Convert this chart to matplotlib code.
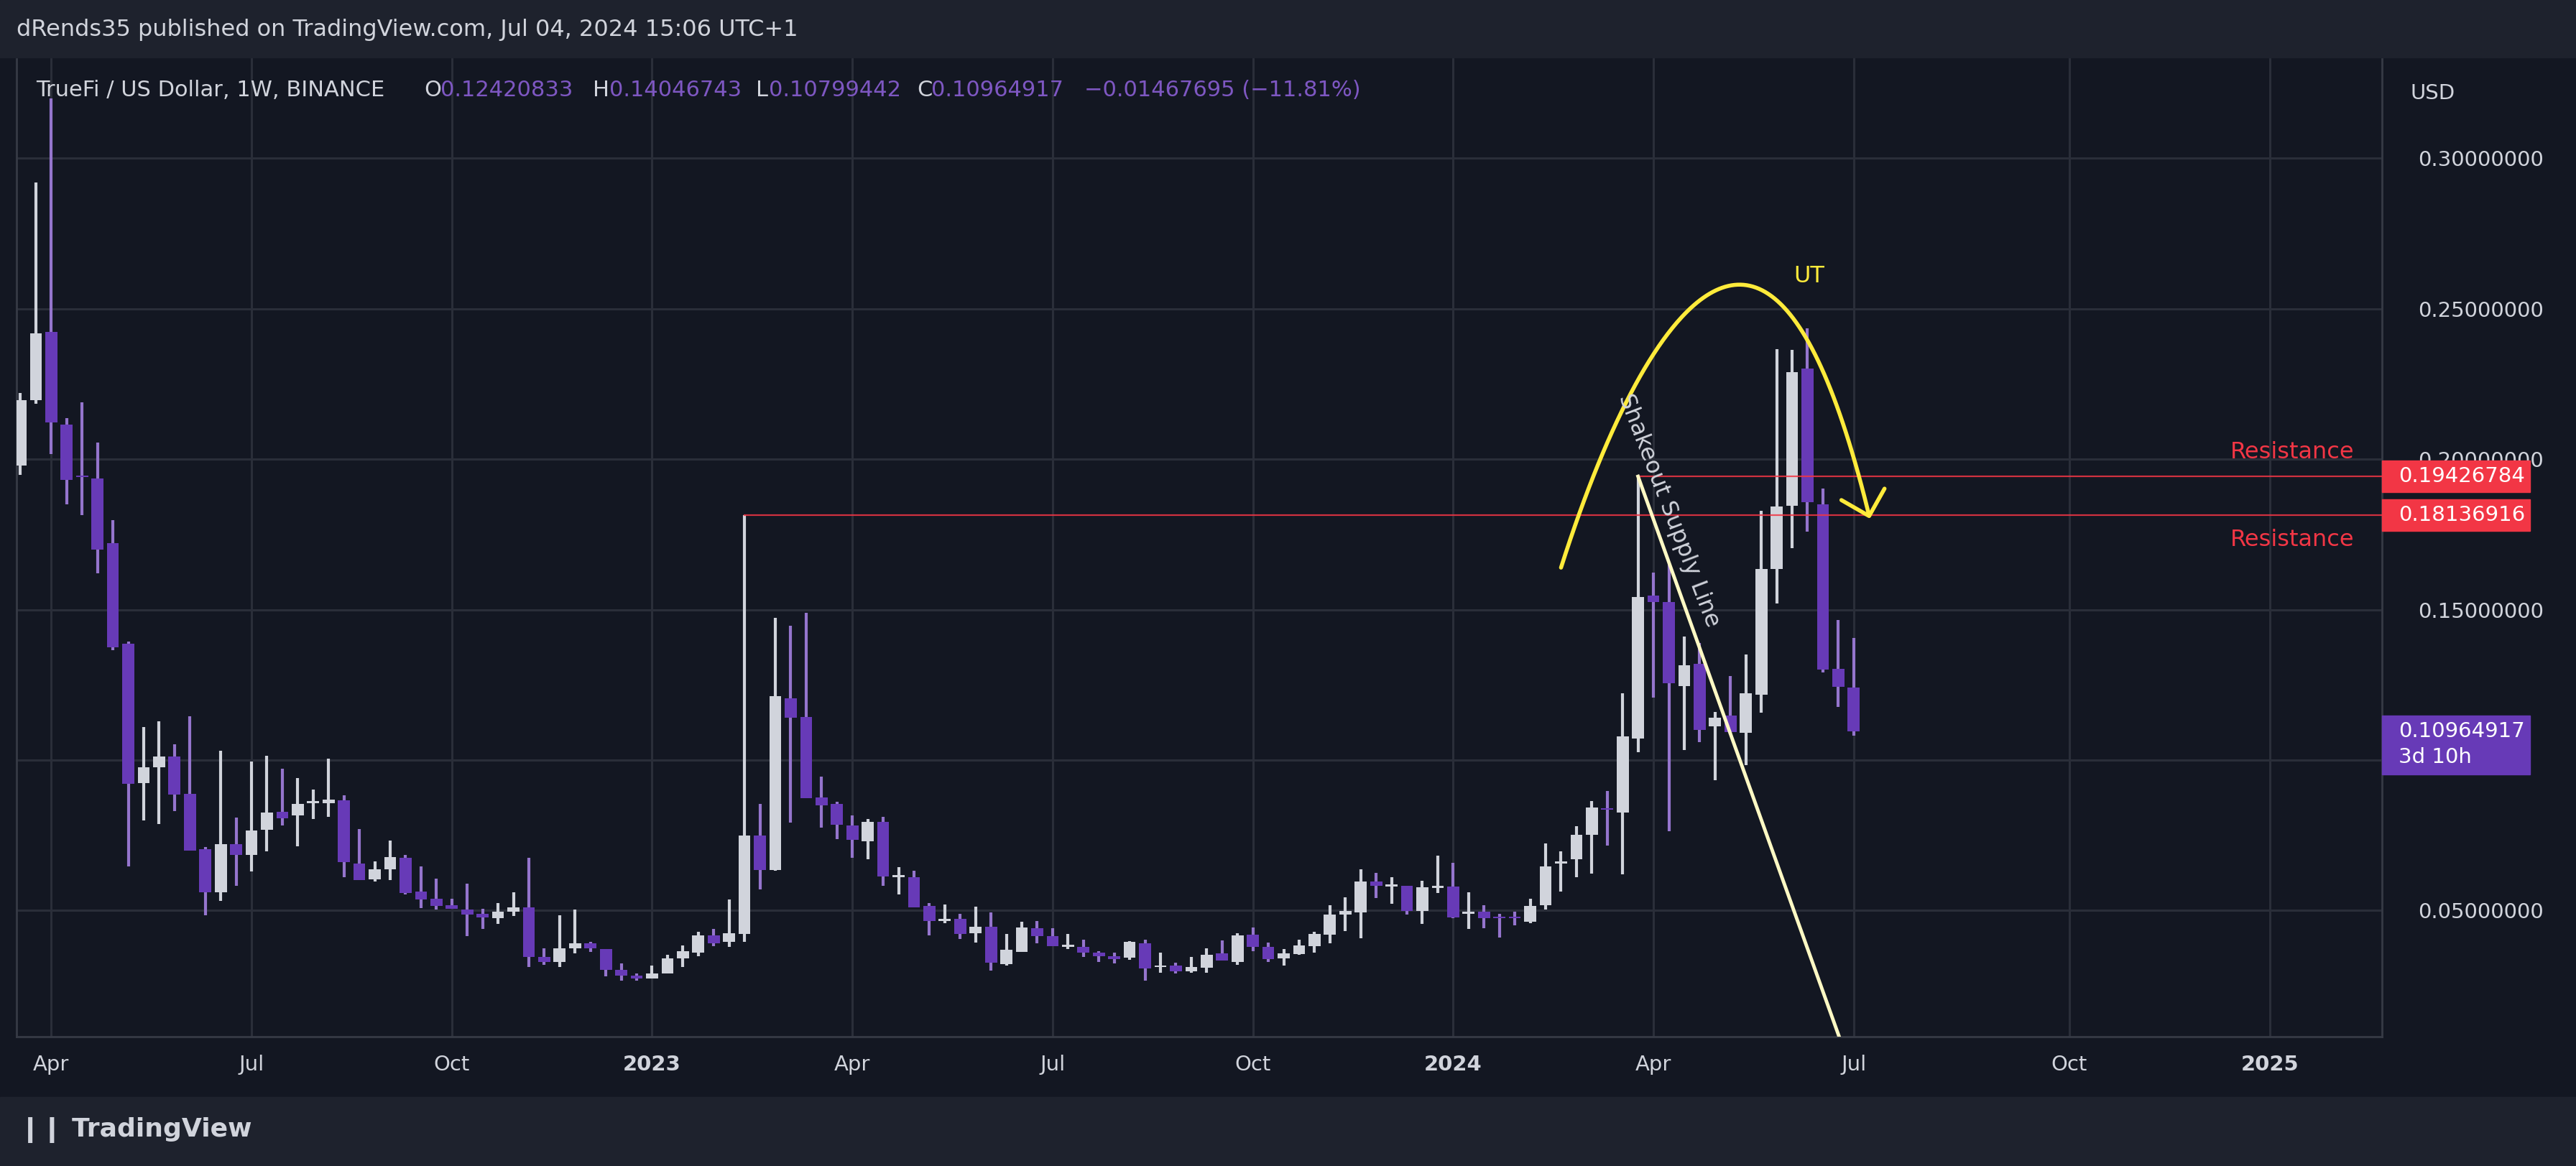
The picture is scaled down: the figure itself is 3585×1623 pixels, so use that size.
import numpy as np
import matplotlib
matplotlib.use("Agg")
import matplotlib.pyplot as plt
from matplotlib.patches import Rectangle
import datetime as dt

# ---------------- data (weekly bars from 2022-03-21) ----------------
start_date = dt.date(2022, 3, 21)
opens = [0.198,0.2197,0.2422,0.2116,0.1942,0.1935,0.172,0.1387,0.0924,0.0975,
         0.1011,0.0887,0.0704,0.0561,0.0721,0.0685,0.0769,0.0828,0.0817,0.0857,
         0.0857,0.0865,0.0656,0.0603,0.0636,0.0674,0.0563,0.054,0.0517,0.0504,
         0.049,0.0475,0.0496,0.0511,0.0346,0.033,0.0374,0.039,0.0372,0.0302,
         0.0283,0.0275,0.029,0.0342,0.0361,0.0418,0.0396,0.0421,0.0749,0.0635,
         0.1206,0.1142,0.0876,0.0855,0.0783,0.0731,0.0795,0.0611,0.061,0.0515,
         0.0466,0.0472,0.0425,0.0446,0.0322,0.0362,0.044,0.0415,0.0379,0.038,
         0.036,0.0349,0.0344,0.0391,0.0311,0.0316,0.0298,0.0309,0.0357,0.0329,
         0.0419,0.0378,0.0341,0.0356,0.0382,0.0419,0.0487,0.0493,0.0597,0.058,
         0.0582,0.0499,0.0575,0.0579,0.049,0.0496,0.0476,0.0477,0.0463,0.0517,
         0.0655,0.0671,0.0752,0.0838,0.0825,0.1072,0.1546,0.1524,0.1245,0.1319,
         0.1113,0.1149,0.109,0.1218,0.1636,0.1846,0.2302,0.1851,0.1302,0.12420833]
highs = [0.222,0.292,0.32,0.2137,0.2189,0.2055,0.1798,0.1393,0.1109,0.1128,
         0.1053,0.1145,0.0712,0.1032,0.0809,0.0996,0.1015,0.097,0.0941,0.0901,
         0.1004,0.0882,0.0771,0.0662,0.0733,0.0685,0.0647,0.0607,0.054,0.059,
         0.0506,0.0525,0.0561,0.0676,0.0374,0.0485,0.0504,0.0395,0.0372,0.0323,
         0.029,0.0317,0.0353,0.0383,0.0429,0.0439,0.0536,0.18136916,0.0855,0.1472,
         0.1446,0.1489,0.0945,0.0862,0.0816,0.0803,0.0811,0.0645,0.0633,0.0525,
         0.052,0.0488,0.0512,0.0494,0.0421,0.0463,0.0465,0.044,0.0421,0.0403,
         0.0365,0.036,0.0397,0.0402,0.0361,0.0327,0.0345,0.0374,0.04,0.0424,
         0.0443,0.0393,0.0371,0.0403,0.0428,0.0517,0.0544,0.0637,0.0625,0.061,
         0.0582,0.0598,0.0683,0.0658,0.0561,0.0518,0.0489,0.0495,0.054,0.0724,
         0.0697,0.0781,0.0864,0.0898,0.1222,0.19426784,0.1623,0.1654,0.141,0.139,
         0.1159,0.128,0.1351,0.1828,0.2366,0.2363,0.2436,0.1902,0.1465,0.14046743]
lows = [0.1947,0.2183,0.2017,0.1851,0.1813,0.162,0.1365,0.0647,0.08,0.0787,
        0.083,0.0698,0.0485,0.0532,0.0582,0.063,0.0697,0.0782,0.0714,0.0805,
        0.0811,0.0611,0.0601,0.0597,0.0601,0.0553,0.0508,0.0504,0.0506,0.0416,
        0.0439,0.0456,0.0481,0.0311,0.0319,0.0311,0.0357,0.0363,0.0281,0.0267,
        0.0267,0.0273,0.029,0.0311,0.0349,0.0382,0.0378,0.0396,0.0571,0.0633,
        0.0791,0.0873,0.0775,0.0736,0.0676,0.0671,0.0583,0.0554,0.0511,0.0418,
        0.0457,0.0406,0.0394,0.03,0.0316,0.0362,0.0391,0.0381,0.0372,0.0346,
        0.0329,0.0325,0.0335,0.0267,0.0294,0.029,0.0294,0.0294,0.0334,0.0319,
        0.0365,0.0329,0.0317,0.0353,0.036,0.0391,0.0431,0.0408,0.0542,0.0523,
        0.0487,0.0456,0.0557,0.0475,0.0439,0.0441,0.041,0.045,0.0457,0.0503,
        0.0563,0.061,0.0622,0.0715,0.062,0.1025,0.1207,0.0764,0.1034,0.106,
        0.0934,0.1085,0.0983,0.1157,0.1521,0.1704,0.1758,0.1291,0.1177,0.10799442]
closes = [0.2195,0.2418,0.2122,0.1931,0.194,0.170,0.1374,0.092,0.0977,0.1011,
          0.0886,0.0698,0.0561,0.072,0.0685,0.0767,0.0826,0.0807,0.0853,0.0859,
          0.0868,0.066,0.0601,0.0636,0.0677,0.0557,0.0536,0.0515,0.0506,0.0487,
          0.0477,0.0496,0.0511,0.0345,0.033,0.0374,0.0391,0.0374,0.0302,0.0283,
          0.0273,0.029,0.0342,0.0364,0.0418,0.0391,0.0424,0.0749,0.0634,0.1212,
          0.114,0.0873,0.085,0.0786,0.0734,0.0795,0.0614,0.0617,0.0511,0.0464,
          0.0472,0.0422,0.0446,0.0327,0.037,0.0444,0.0416,0.0381,0.0386,0.036,
          0.0348,0.0339,0.0396,0.0308,0.0316,0.0298,0.0311,0.0353,0.0334,0.0417,
          0.0379,0.0339,0.0357,0.0384,0.0421,0.0486,0.0498,0.0596,0.0582,0.0587,
          0.0499,0.0577,0.0582,0.0478,0.0494,0.0474,0.0474,0.0474,0.0514,0.0646,
          0.0663,0.0752,0.0843,0.0834,0.1078,0.1541,0.1526,0.1256,0.1314,0.1101,
          0.114,0.1094,0.1221,0.1636,0.1843,0.229,0.1858,0.13,0.1244,0.10964917]

resistance_levels = [0.19426784, 0.18136916]
resistance_start_bars = [105, 47]
price_ticks = [0.05, 0.10, 0.15, 0.20, 0.25, 0.30]
last_price = 0.10964917
change_text = "\u22120.01467695 (\u221211.81%)"

# ---------------- style ----------------
BG = "#131722"
BAND = "#1e222d"
GRID = "#2a2e39"
UP = "#d1d4dc"
DN = "#673ab7"
DN_WICK = "#9575cd"
RED = "#f23645"

W, H = 3585, 1623
S = W / 1568.0
fig = plt.figure(figsize=(W / 100, H / 100), dpi=100, facecolor=BG)

def fx(x): return x * S / W
def fy(y): return 1 - y * S / H

fig.patches.append(Rectangle((0, fy(35)), 1, 1 - fy(35), transform=fig.transFigure, color=BAND, zorder=0))
fig.patches.append(Rectangle((0, 0), 1, fy(668), transform=fig.transFigure, color=BAND, zorder=0))

left, right, top, bottom = 10, 1450, 35, 631
ax = fig.add_axes([fx(left), fy(bottom), fx(right) - fx(left), fy(top) - fy(bottom)])
ax.set_facecolor(BG)
n = len(opens)
x = np.arange(n)
XLIM = (-0.26, 153.3)
YLIM = (0.00813, 0.3335)

# month ticks (first weekly bar of Jan/Apr/Jul/Oct)
dates = [start_date + dt.timedelta(days=7 * i) for i in range(160)]
tp, tl, tb = [], [], []
for i in range(1, len(dates)):
    d, dp = dates[i], dates[i - 1]
    if d.month != dp.month and d.month in (1, 4, 7, 10) and i < XLIM[1]:
        tp.append(i)
        tl.append(str(d.year) if d.month == 1 else d.strftime("%b"))
        tb.append(d.month == 1)

# candles
bw = 0.78
for i in range(n):
    o, h, l, c = opens[i], highs[i], lows[i], closes[i]
    up = c >= o
    ax.vlines(x[i], l, h, color=UP if up else DN_WICK, linewidth=3, zorder=3)
    ax.add_patch(Rectangle((x[i] - bw / 2, min(o, c)), bw, max(abs(c - o), 0.0006),
                           color=UP if up else DN, zorder=4, linewidth=0))

for lvl, sb in zip(resistance_levels, resistance_start_bars):
    ax.plot([sb, 160], [lvl, lvl], color=RED, linewidth=1.6, zorder=5, alpha=0.85)

ax.text(151.5, 0.1985, "Resistance", color=RED, fontsize=23, ha="right", va="bottom")
ax.text(151.5, 0.1768, "Resistance", color=RED, fontsize=23, ha="right", va="top")

# shakeout supply line
slope = (0.0178 - resistance_levels[0]) / 12.37
xs = np.array([105, 118.1])
ax.plot(xs, resistance_levels[0] + slope * (xs - 105), color="#fff9c4", linewidth=3.5, zorder=6)
ax.text(107.0, 0.183, "Shakeout Supply Line", color=UP, fontsize=23, rotation=-69,
        rotation_mode="anchor", ha="center", va="center", zorder=7)

# UT arc
arc_x = np.array([100, 101.3, 104.4, 107.6, 111.4, 116.0, 119.0, 120.0])
arc_y = np.array([0.164, 0.1837, 0.2195, 0.2477, 0.2566, 0.240, 0.2005, 0.1811])
coef = np.polyfit(arc_x, arc_y, 4)
xx = np.linspace(100, 120, 200)
ax.plot(xx, np.polyval(coef, xx), color="#ffeb3b", linewidth=4, zorder=6, solid_capstyle="round")
ax.plot([118.2, 120.0, 121.0], [0.1864, 0.1811, 0.1902], color="#ffeb3b", linewidth=4, zorder=6,
        solid_capstyle="round")
ax.text(116.1, 0.2608, "UT", color="#ffeb3b", fontsize=23, ha="center", va="center")

ax.set_xticks(tp)
ax.set_xticklabels(tl)
for lab, b in zip(ax.get_xticklabels(), tb):
    lab.set_fontweight("bold" if b else "normal")
ax.set_yticks(price_ticks)
ax.set_yticklabels(["" if abs(v - last_price) < 0.02 else f"{v:.8f}" for v in price_ticks])
ax.set_xlim(*XLIM)
ax.set_ylim(*YLIM)
ax.yaxis.tick_right()
ax.tick_params(axis="both", length=0, colors=UP, labelsize=21)
ax.tick_params(axis="y", pad=36)
ax.tick_params(axis="x", pad=18)
ax.grid(True, color=GRID, linewidth=2.2)
ax.set_axisbelow(True)
for sp in ax.spines.values():
    sp.set_color("#363a45"); sp.set_linewidth(2)
ax.spines["top"].set_visible(False)

# price tags
def ypix(p):
    return ax.transData.transform((0, p))[1] / H
def tag(p, text, color, two=None):
    yc = ypix(p)
    hh = 19 * S / H
    if two:
        hh2 = 36 * S / H
        fig.patches.append(Rectangle((fx(1450), yc + hh / 2 - hh2), fx(1540) - fx(1450), hh2,
                                     transform=fig.transFigure, color=color, zorder=5))
        fig.text(fx(1460), yc, text, color="white", fontsize=21, va="center", ha="left", zorder=7)
        fig.text(fx(1460), yc - 16 * S / H, two, color="white", fontsize=21, va="center", ha="left", zorder=7)
    else:
        fig.patches.append(Rectangle((fx(1450), yc - hh / 2), fx(1540) - fx(1450), hh,
                                     transform=fig.transFigure, color=color, zorder=5))
        fig.text(fx(1460), yc, text, color="white", fontsize=21, va="center", ha="left", zorder=7)

tag(resistance_levels[0], f"{resistance_levels[0]:.8f}", RED)
tag(resistance_levels[1], f"{resistance_levels[1]:.8f}", RED)
tag(last_price, f"{last_price:.8f}", DN, two="3d 10h")

# header texts
fig.text(fx(10), fy(18), "dRends35 published on TradingView.com, Jul 04, 2024 15:06 UTC+1",
         color="#d1d4dc", fontsize=23, va="center")
fig.text(fx(1467), fy(57), "USD", color="#d1d4dc", fontsize=21, va="center")
ty = fy(55)
segs = [(22, "TrueFi / US Dollar, 1W, BINANCE", "#d1d4dc"), (258, "O", "#d1d4dc"),
        (268, f"{opens[-1]:.8f}", "#7e57c2"), (361, "H", "#d1d4dc"), (371, f"{highs[-1]:.8f}", "#7e57c2"),
        (460, "L", "#d1d4dc"), (468, f"{lows[-1]:.8f}", "#7e57c2"), (558, "C", "#d1d4dc"),
        (567, f"{closes[-1]:.8f}", "#7e57c2"), (660, change_text, "#7e57c2")]
for xp, t, c in segs:
    fig.text(fx(xp), ty, t, color=c, fontsize=22, va="center")
fig.text(fx(12), fy(688), "\u2759\u2759 TradingView", color="#d1d4dc", fontsize=26, va="center", fontweight="bold")

fig.savefig("out.png", dpi=100, facecolor=BG)
